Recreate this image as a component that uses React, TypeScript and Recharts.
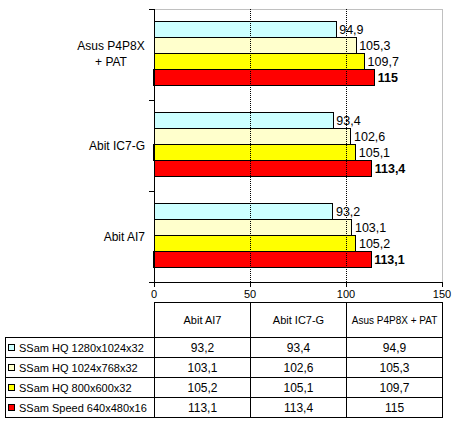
import React from 'react';
import { BarChart, Bar, XAxis, YAxis, ReferenceLine, ReferenceArea, LabelList } from 'recharts';

const categories = ['Abit AI7', 'Abit IC7-G', 'Asus P4P8X + PAT'];
const seriesNames = ['SSam HQ 1280x1024x32', 'SSam HQ 1024x768x32', 'SSam HQ 800x600x32', 'SSam Speed 640x480x16'];
const seriesColors = ['#CCFFFF', '#FFFFCC', '#FFFF00', '#FF0000'];
const hq1280 = [93.2, 93.4, 94.9];
const hq1024 = [103.1, 102.6, 105.3];
const hq800 = [105.2, 105.1, 109.7];
const speed640 = [113.1, 113.4, 115];
const xTicks = [0, 50, 100, 150];
const gridValues = [50, 100];

const seriesValues = [hq1280, hq1024, hq800, speed640];
const keys = ['s0', 's1', 's2', 's3'];
const data = categories.map((name, i) => {
  const row: any = { name };
  keys.forEach((k, j) => (row[k] = seriesValues[j][i]));
  return row;
});

const FONT = '"Liberation Sans", Arial, sans-serif';
const fmt = (v: any) => String(v).replace('.', ',');

const CHART_W = 456;
const CHART_H = 302;
const MARGIN = { top: 9, right: 14, left: 0, bottom: 0 };
const X_AXIS_H = 20;
const Y_AXIS_W = 154;
const BAND = (CHART_H - MARGIN.top - MARGIN.bottom - X_AXIS_H) / categories.length;

const YTick = (props: any) => {
  const { x, y, payload } = props;
  const axisX = x + 9;
  const label: string = payload.value;
  const parts = label.includes(' + ') ? [label.split(' + ')[0], '+ ' + label.split(' + ')[1]] : [label];
  return (
    <g>
      <line x1={axisX - 5} x2={axisX} y1={y - BAND / 2} y2={y - BAND / 2} stroke="#000" shapeRendering="crispEdges" />
      <line x1={axisX - 5} x2={axisX} y1={y + BAND / 2} y2={y + BAND / 2} stroke="#000" shapeRendering="crispEdges" />
      {parts.length === 1 ? (
        <text x={x} y={y} dy="0.35em" textAnchor="end" fontSize={12} fontFamily={FONT} fill="#000">
          {label}
        </text>
      ) : (
        <text x={x - 34} y={y} textAnchor="middle" fontSize={12} fontFamily={FONT} fill="#000">
          {parts.map((p, i) => (
            <tspan key={i} x={x - 34} dy={i === 0 ? '-0.35em' : '1.3em'}>
              {p}
            </tspan>
          ))}
        </text>
      )}
    </g>
  );
};

const cellBorder = '1px solid #000';

export default function App() {
  return (
    <div style={{ position: 'absolute', left: 0, top: 0, width: 456, height: 421, background: '#fff', fontFamily: FONT }}>
      <BarChart
        width={CHART_W}
        height={CHART_H}
        data={data}
        layout="vertical"
        margin={MARGIN}
        barCategoryGap="14%"
        barGap={0}
      >
        <ReferenceArea x1={0} x2={150} fill="none" stroke="#c0c0c0" ifOverflow="visible" shapeRendering="crispEdges" />
        {gridValues.map((v) => (
          <ReferenceLine key={v} x={v} stroke="#000" strokeDasharray="1 1" shapeRendering="crispEdges" />
        ))}
        <XAxis
          type="number"
          domain={[0, 150]}
          ticks={xTicks}
          height={X_AXIS_H}
          axisLine={{ stroke: '#000', shapeRendering: 'crispEdges' }}
          tickLine={{ stroke: '#000', shapeRendering: 'crispEdges' }}
          tickSize={5}
          tickMargin={3}
          tick={{ fill: '#000', fontSize: 11, fontFamily: FONT }}
        />
        <YAxis
          type="category"
          dataKey="name"
          reversed
          width={Y_AXIS_W}
          axisLine={{ stroke: '#000', shapeRendering: 'crispEdges' }}
          tickLine={false}
          tickSize={0}
          tickMargin={9}
          tick={<YTick />}
          interval={0}
        />
        {keys.map((k, j) => (
          <Bar
            key={k}
            dataKey={k}
            name={seriesNames[j]}
            fill={seriesColors[j]}
            stroke="#000"
            strokeWidth={1}
            shapeRendering="crispEdges"
            isAnimationActive={false}
          >
            <LabelList
              dataKey={k}
              position="right"
              offset={3}
              formatter={fmt}
              fill="#000"
              fontSize={12.5}
              fontFamily={FONT}
              fontWeight={j === 3 ? 'bold' : 'normal'}
            />
          </Bar>
        ))}
      </BarChart>
      <table
        style={{
          position: 'absolute',
          left: 5,
          top: 302,
          borderCollapse: 'collapse',
          tableLayout: 'fixed',
          fontFamily: FONT,
          fontSize: 11,
          color: '#000',
        }}
      >
        <colgroup>
          <col style={{ width: 149 }} />
          {categories.map((c) => (
            <col key={c} style={{ width: 96 }} />
          ))}
        </colgroup>
        <tbody>
          <tr style={{ height: 35 }}>
            <td style={{ border: 'none', padding: 0 }} />
            {categories.map((c) => (
              <td key={c} style={{ border: cellBorder, padding: 0, textAlign: 'center', whiteSpace: 'nowrap', fontSize: c.length > 12 ? 10 : 11 }}>
                {c}
              </td>
            ))}
          </tr>
          {seriesNames.map((s, j) => (
            <tr key={s} style={{ height: 20 }}>
              <td style={{ border: cellBorder, padding: '0 0 0 2px', whiteSpace: 'nowrap' }}>
                <span
                  style={{
                    display: 'inline-block',
                    width: 7,
                    height: 7,
                    boxSizing: 'border-box',
                    border: '1px solid #000',
                    background: seriesColors[j],
                    marginRight: 4,
                    verticalAlign: 'middle',
                    position: 'relative',
                    top: -1,
                  }}
                />
                {s}
              </td>
              {seriesValues[j].map((v, i) => (
                <td key={i} style={{ border: cellBorder, padding: 0, textAlign: 'center', fontSize: 12 }}>
                  {fmt(v)}
                </td>
              ))}
            </tr>
          ))}
        </tbody>
      </table>
    </div>
  );
}
